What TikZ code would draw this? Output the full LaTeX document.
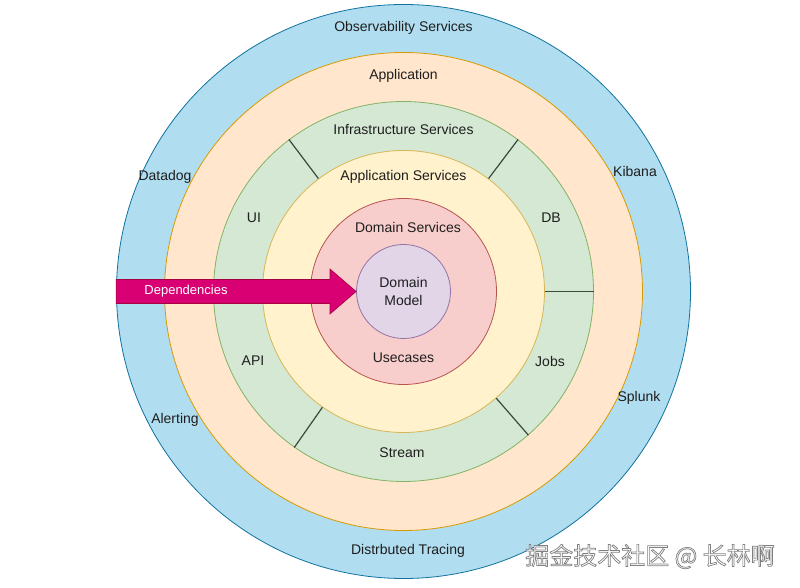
\documentclass[tikz,border=0pt]{standalone}
\usepackage{fontspec}
\setmainfont{Liberation Sans}
\newfontfamily\cjkfont{Noto Sans CJK SC}
\usetikzlibrary{calc}
\definecolor{obsfill}{HTML}{B1DDF0}\definecolor{obsline}{HTML}{10739E}
\definecolor{appfill}{HTML}{FFE6CC}\definecolor{appline}{HTML}{D79B00}
\definecolor{inffill}{HTML}{D5E8D4}\definecolor{infline}{HTML}{82B366}
\definecolor{asvfill}{HTML}{FFF2CC}\definecolor{asvline}{HTML}{D6B656}
\definecolor{domfill}{HTML}{F8CECC}\definecolor{domline}{HTML}{B85450}
\definecolor{dmfill}{HTML}{E1D5E7}\definecolor{dmline}{HTML}{9673A6}
\definecolor{arrfill}{HTML}{D80073}\definecolor{arrline}{HTML}{A50040}
\definecolor{txt}{HTML}{1E1E1E}
\definecolor{divline}{HTML}{3A4A3A}
\newcommand{\outlinedtext}[1]{\special{pdf:literal 0.5 G 0.7 w 2 Tr}#1\special{pdf:literal 0 Tr}}
\begin{document}
\begin{tikzpicture}[x=1pt,y=1pt,
  ring/.style={circle, draw, line width=0.8pt, inner sep=0pt},
  lbl/.style={font=\fontsize{14}{16}\selectfont, text=txt},
  divider/.style={draw=divline, line width=1.2pt},
  arrowbody/.style={fill=arrfill, draw=arrline, line width=0.6pt},
  wm/.style={font=\cjkfont\fontsize{24}{27}\selectfont}]
\useasboundingbox (-403.5,-296.5) rectangle (396.5,291.5);
\fill[white] (-403.5,-296.5) rectangle (396.5,291.5);
% rings
\node[ring, fill=obsfill, draw=obsline, minimum size=574pt] (obs) at (0,0) {};
\node[ring, fill=appfill, draw=appline, minimum size=478pt] (app) at (0,0) {};
\node[ring, fill=inffill, draw=infline, minimum size=380pt] (inf) at (0,0) {};
\node[ring, fill=asvfill, draw=asvline, minimum size=282pt] (asv) at (0,0) {};
\node[ring, fill=domfill, draw=domline, minimum size=186pt] (dom) at (0,0) {};
\node[ring, fill=dmfill, draw=dmline, minimum size=94pt] (dm) at (0,0) {};
% dividers in the infrastructure ring
\draw[divider] (inf.127) -- (asv.127);
\draw[divider] (inf.53) -- (asv.53);
\draw[divider] (inf.0) -- (asv.0);
\draw[divider] (inf.235.5) -- (asv.235.5);
\draw[divider] (inf.311.5) -- (asv.311.5);
% dependencies arrow
\coordinate (arrtail) at (obs.west);
\coordinate (arrtip) at (dm.west);
\draw[arrowbody] ($(arrtail)+(0,12)$) -- (-73.5,12) -- (-73.5,22.5) -- (arrtip)
  -- (-73.5,-22.5) -- (-73.5,-12) -- ($(arrtail)+(0,-12)$) -- cycle;
\node[font=\fontsize{13}{15}\selectfont, text=white] (dep) at (-217.5,0) {Dependencies};
% labels
\node[lbl] (l1) at (0,263.5) {Observability Services};
\node[lbl] (l2) at (0,215.5) {Application};
\node[lbl] (l3) at (0,161.5) {Infrastructure Services};
\node[lbl] (l4) at (0,114.5) {Application Services};
\node[lbl] (l5) at (4.5,64.5) {Domain Services};
\node[lbl, align=center, font=\fontsize{14}{18}\selectfont] (l6) at (0,0.5) {Domain\\Model};
\node[lbl] (l7) at (0,-66.5) {Usecases};
\node[lbl] (l8) at (-1.5,-161.5) {Stream};
\node[lbl] (l9) at (4.5,-259.5) {Distrbuted Tracing};
\node[lbl] (l10) at (-238.5,114.5) {Datadog};
\node[lbl] (l11) at (231.5,119.5) {Kibana};
\node[lbl] (l12) at (-228.5,-128.5) {Alerting};
\node[lbl] (l13) at (235.5,-106.5) {Splunk};
\node[lbl] (l14) at (-149.5,73.5) {UI};
\node[lbl] (l15) at (147.5,73.5) {DB};
\node[lbl] (l16) at (-150.5,-69.5) {API};
\node[lbl] (l17) at (146.5,-69.5) {Jobs};
% watermark
\node[wm, text=white] (wmk) at (246.5,-265) {\outlinedtext{掘金技术社区 @ 长林啊}};
\end{tikzpicture}
\end{document}
